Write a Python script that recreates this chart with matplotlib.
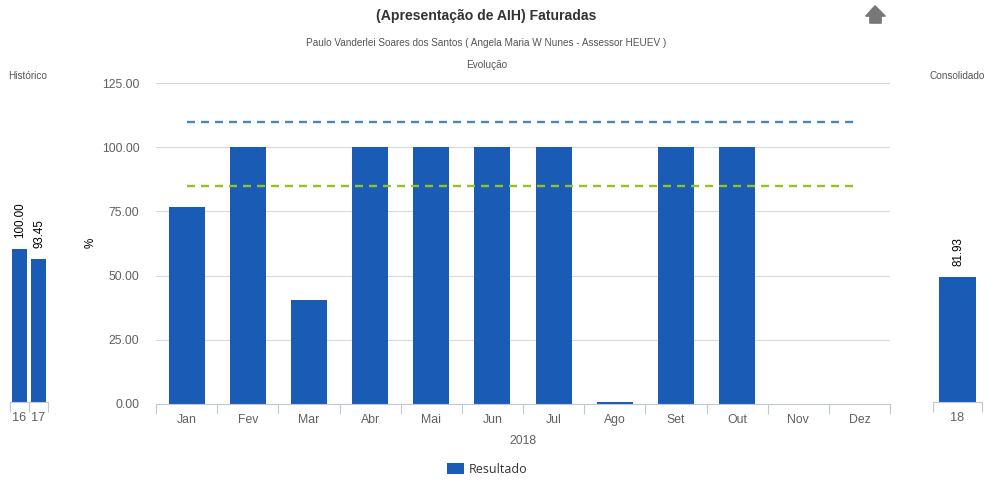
import matplotlib
matplotlib.use("Agg")
import matplotlib.pyplot as plt
from matplotlib.patches import Polygon

plt.rcParams["font.family"] = ["Liberation Sans", "DejaVu Sans"]

months = ["Jan", "Fev", "Mar", "Abr", "Mai", "Jun", "Jul", "Ago", "Set", "Out", "Nov", "Dez"]
resultado = [76.7, 100, 40.5, 100, 100, 100, 100, 0.8, 100, 100, 0, 0]
meta_azul = [110] * 12
meta_verde = [85] * 12
hist_years = ["16", "17"]
hist_values = [100.00, 93.45]
cons_years = ["18"]
cons_values = [81.93]

BLUE = "#1A5BB5"
GREY = "#606060"
TICK = "#C0C8D4"
LABEL = "#555555"
W, H = 1000, 500


def px_axes(fig, x0, x1, y_top, y_bottom):
    return fig.add_axes([x0 / W, 1 - y_bottom / H, (x1 - x0) / W, (y_bottom - y_top) / H])


def style_cat_axis(ax, labels, size=8.8):
    ax.set_xlim(-0.5, len(labels) - 0.5)
    ax.set_xticks([i - 0.5 for i in range(len(labels) + 1)])
    ax.set_xticklabels([])
    ax.set_xticks(range(len(labels)), labels, minor=True)
    ax.tick_params(axis="x", which="major", length=7.2, width=0.8, color=TICK)
    ax.tick_params(axis="x", which="minor", length=0, pad=7, labelsize=size, labelcolor=GREY)
    for s in ["top", "left", "right"]:
        ax.spines[s].set_visible(False)
    ax.spines["bottom"].set_color(TICK)
    ax.spines["bottom"].set_linewidth(0.8)


def mini_chart(ax, labels, values, width):
    bars = ax.bar(range(len(labels)), values, width=width, color=BLUE)
    ax.set_ylim(0, 208.5)
    ax.set_yticks([])
    style_cat_axis(ax, labels, size=9.2)
    for b, v in zip(bars, values):
        ax.annotate(f"{v:.2f}", (b.get_x() + b.get_width() / 2, v), xytext=(0.5, 8),
                    textcoords="offset points", rotation=90, ha="center", va="bottom",
                    fontsize=8.4, color="black")


fig = plt.figure(figsize=(10, 5), dpi=100)

# grafico principal
ax = px_axes(fig, 156, 890, 83, 404)
x = range(len(months))
bars = ax.bar(x, resultado, width=0.59, color=BLUE, label="Resultado", zorder=2)
ax.plot(x, meta_azul, color="#4A86B8", lw=1.7, dashes=(3.39, 2.54), zorder=3)
ax.plot(x, meta_verde, color="#93C225", lw=1.7, dashes=(3.39, 2.54), zorder=3)
ax.set_ylim(0, 125)
ax.set_yticks([0, 25, 50, 75, 100, 125])
ax.set_yticklabels([f"{v:.2f}" for v in [0, 25, 50, 75, 100, 125]])
ax.tick_params(axis="y", length=0, pad=12, labelsize=8.8, labelcolor=GREY)
ax.grid(axis="y", color="#D8D8D8", lw=0.8, zorder=1)
ax.set_axisbelow(True)
style_cat_axis(ax, months)
ax.set_xlabel("2018", fontsize=8.8, color=GREY, labelpad=7)

# historico e consolidado
ax_hist = px_axes(fig, 9.5, 48, 83, 402)
mini_chart(ax_hist, hist_years, hist_values, 0.78)
ax_cons = px_axes(fig, 933, 982, 83, 402)
mini_chart(ax_cons, cons_years, cons_values, 0.77)

fig.text(486 / W, 1 - 16 / H, "(Apresentação de AIH) Faturadas", ha="center", va="center",
         fontsize=10.1, fontweight="bold", color="#333333")
fig.text(486.5 / W, 1 - 43 / H, "Paulo Vanderlei Soares dos Santos ( Angela Maria W Nunes - Assessor HEUEV )",
         ha="center", va="center", fontsize=7.2, color=LABEL)
fig.text(487 / W, 1 - 65 / H, "Evolução", ha="center", va="center", fontsize=7.2, color=LABEL)
fig.text(28 / W, 1 - 76 / H, "Histórico", ha="center", va="center", fontsize=7.2, color=LABEL)
fig.text(957.5 / W, 1 - 76 / H, "Consolidado", ha="center", va="center", fontsize=7.2, color=LABEL)
fig.text(90.5 / W, 1 - 243 / H, "%", ha="center", va="center", rotation=90, fontsize=8.4, color="black")

# seta de voltar
arrow = [(875, 6), (885, 16), (881, 16), (881, 23), (870, 23), (870, 16), (866, 16)]
fig.add_artist(Polygon([(px / W, 1 - py / H) for px, py in arrow], closed=True,
                       transform=fig.transFigure, facecolor="#777777", edgecolor="#777777",
                       lw=1.2, joinstyle="round"))

handles, labels = ax.get_legend_handles_labels()
fig.legend(handles, labels, loc="center", bbox_to_anchor=(487.5 / W, 1 - 469.5 / H), frameon=False,
           handlelength=1.3, handleheight=1.0, handletextpad=0.45,
           prop={"family": "Open Sans", "size": 9}, labelcolor="#333333")

fig.savefig("out.png", dpi=100)
